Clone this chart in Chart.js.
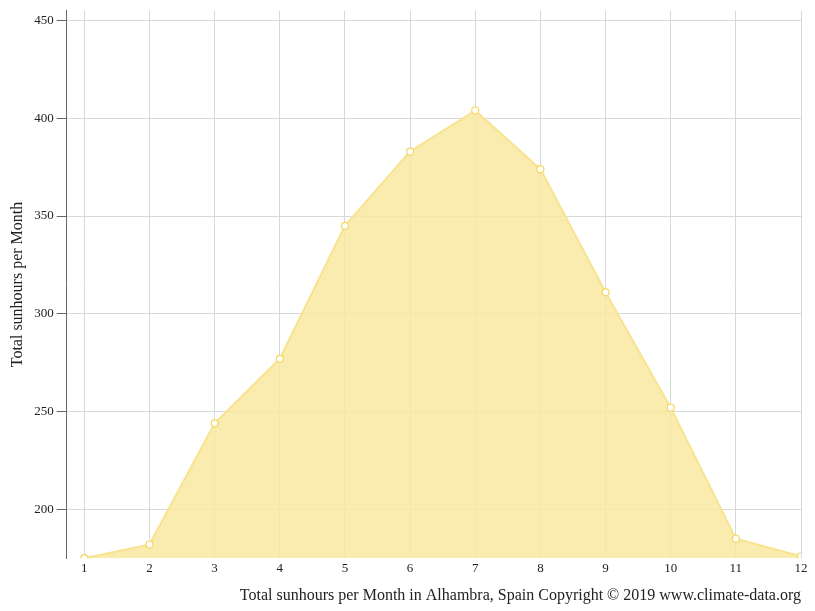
<!DOCTYPE html>
<html><head><meta charset="utf-8">
<script src="https://cdn.jsdelivr.net/npm/chart.js@4/dist/chart.umd.min.js"></script>
<style>html,body{margin:0;padding:0;background:#fff}#w{width:815px;height:611px}</style>
</head><body><div id="w"><canvas id="c"></canvas></div>
<script>
const months = [1,2,3,4,5,6,7,8,9,10,11,12];
const sunhours = [175,182,244,277,345,383,404,374,311,252,185,176];
const yTicks = [200,250,300,350,400,450];
Chart.defaults.font.family = "'Liberation Serif', serif";
Chart.defaults.color = '#222';
new Chart(document.getElementById('c'), {
  type: 'line',
  data: { datasets: [{
    data: months.map((m,i)=>({x:m,y:sunhours[i]})),
    borderColor: '#f8e38e', backgroundColor: 'rgba(249,232,160,0.85)',
    fill: 'start', borderWidth: 2, tension: 0,
    pointRadius: 3.5, pointBackgroundColor: '#fff', pointBorderColor: '#f5d860', pointBorderWidth: 1.2
  }]},
  options: {
    responsive: true, maintainAspectRatio: false, animation: false,
    layout: { padding: { top: 10, right: 14, left: 4, bottom: 2 } },
    plugins: { legend: { display: false }, tooltip: { enabled: false } },
    scales: {
      x: { type: 'linear', min: 0.73, max: 12,
        afterBuildTicks: ax => { ax.ticks = months.map(v=>({value:v})); },
        ticks: { font: { size: 13 }, callback: v => v },
        grid: { color: '#d8d8d8', drawTicks: false, tickLength: 0 },
        border: { display: false },
        title: { display: true, text: 'Total sunhours per Month in Alhambra, Spain Copyright © 2019 www.climate-data.org', align: 'end', font: { size: 16 }, padding: { top: 6 } } },
      y: { min: 175, max: 455,
        afterBuildTicks: ax => { ax.ticks = yTicks.map(v=>({value:v})); },
        ticks: { font: { size: 13 } },
        grid: { color: '#d8d8d8', tickLength: 10, tickColor: '#666' },
        border: { display: true, color: '#666' },
        title: { display: true, text: 'Total sunhours per Month', font: { size: 16 } } }
    }
  }
});
</script></body></html>
